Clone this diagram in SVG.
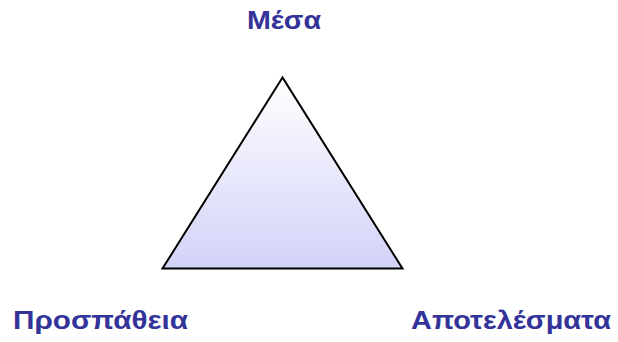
<svg xmlns="http://www.w3.org/2000/svg" width="618" height="342" viewBox="0 0 618 342">
<style>
.lbl{font-family:"Liberation Sans",Arial,sans-serif;font-weight:bold;font-size:26px;fill:#333399}
</style>
<defs>
<linearGradient id="g" x1="0" y1="0" x2="0" y2="1">
<stop offset="0" stop-color="#ffffff"/>
<stop offset="1" stop-color="#d2d2f8"/>
</linearGradient>
</defs>
<rect width="618" height="342" fill="#ffffff"/>
<g id="triangle">
<polygon points="282.5,77.5 162.5,268.5 402.5,268.5" fill="url(#g)" stroke="#000" stroke-width="2" stroke-linejoin="miter"/>
</g>
<g id="top"><text class="lbl" x="247" y="29" textLength="74" lengthAdjust="spacingAndGlyphs">Μέσα</text></g>
<g id="left"><text class="lbl" x="13" y="329" textLength="175" lengthAdjust="spacingAndGlyphs">Προσπάθεια</text></g>
<g id="right"><text class="lbl" x="411" y="329" textLength="200" lengthAdjust="spacingAndGlyphs">Αποτελέσματα</text></g>
</svg>
